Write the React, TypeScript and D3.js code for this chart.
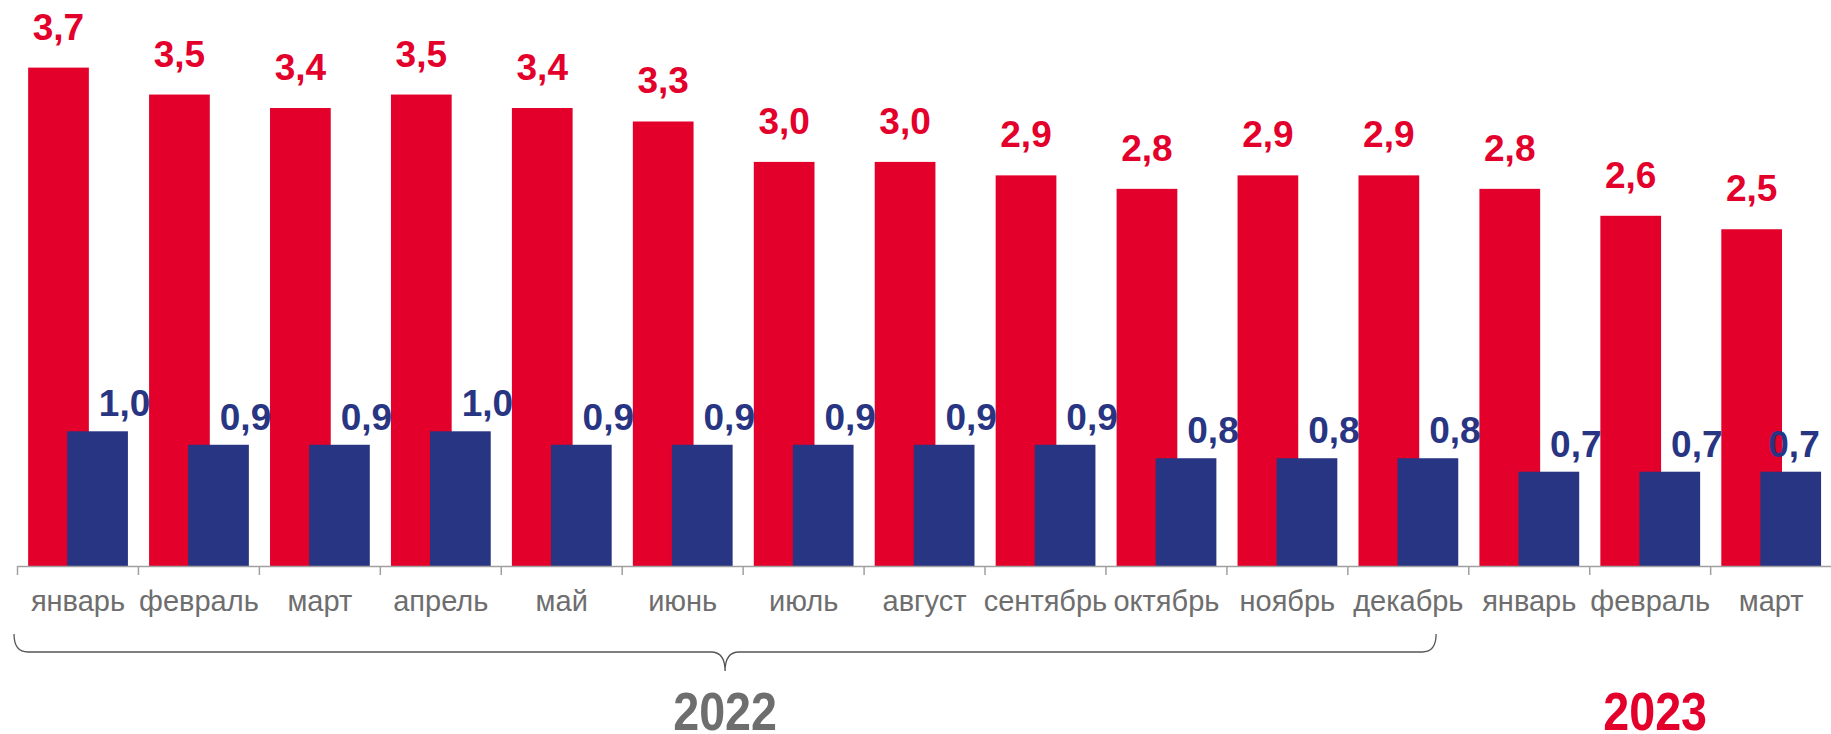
import React from "react";
import * as d3 from "d3";

const categories = ["январь", "февраль", "март", "апрель", "май", "июнь", "июль", "август", "сентябрь", "октябрь", "ноябрь", "декабрь", "январь", "февраль", "март"];
const redValues = [3.7, 3.5, 3.4, 3.5, 3.4, 3.3, 3.0, 3.0, 2.9, 2.8, 2.9, 2.9, 2.8, 2.6, 2.5];
const blueValues = [1.0, 0.9, 0.9, 1.0, 0.9, 0.9, 0.9, 0.9, 0.9, 0.8, 0.8, 0.8, 0.7, 0.7, 0.7];
const years = ["2022", "2023"];
const yearStart = [0, 12];
const yearEnd = [11, 14];

const W = 1831;
const H = 734;
const RED = "#E3002B";
const BLUE = "#283582";
const GRAY = "#6e6e6e";
const AXIS = "#a0a0a0";

const fmt = (v: number) => v.toFixed(1).replace(".", ",");

export default function App() {
  const idx = categories.map((_, i) => i);
  const x = d3.scaleBand<number>().domain(idx).range([17.5, 1831.6]).paddingInner(0).paddingOuter(0);
  const bw = x.bandwidth();
  const y = d3.scaleLinear().domain([0, 4]).range([566, 566 - 4 * 134.7]);
  const barW = bw * 0.502;
  const redOff = bw * 0.088;
  const blueOff = bw * 0.411;
  const y0 = y(0);
  const labelHalf = 37;
  const clampX = (v: number) => Math.max(labelHalf - 10, Math.min(W - labelHalf, v));

  const braceL = (x(yearStart[0]) as number) - 3.5;
  const braceR = (x(yearEnd[0]) as number) + bw * 0.73;
  const tip = (braceL + braceR) / 2;
  const bTop = 634;
  const bMid = 652;
  const bTip = 671;
  const r = 14;
  const brace = `M${braceL},${bTop} Q${braceL},${bMid} ${braceL + r},${bMid} L${tip - r},${bMid} Q${tip},${bMid} ${tip},${bTip} Q${tip},${bMid} ${tip + r},${bMid} L${braceR - r},${bMid} Q${braceR},${bMid} ${braceR},${bTop}`;

  const y2023c = ((x(yearStart[1]) as number) + (x(yearEnd[1]) as number) + bw) / 2 + 5;

  return (
    <svg width={W} height={H} style={{ position: "absolute", left: 0, top: 0, display: "block" }} fontFamily="'Liberation Sans', Arial, sans-serif">
      <rect x={0} y={0} width={W} height={H} fill="#ffffff" />
      {idx.map((i) => (
        <rect key={"r" + i} x={(x(i) as number) + redOff} y={y(redValues[i])} width={barW} height={y0 - y(redValues[i])} fill={RED} />
      ))}
      {idx.map((i) => (
        <rect key={"b" + i} x={(x(i) as number) + blueOff} y={y(blueValues[i])} width={barW} height={y0 - y(blueValues[i])} fill={BLUE} />
      ))}
      <line x1={17.5} x2={W} y1={y0 + 0.5} y2={y0 + 0.5} stroke={AXIS} strokeWidth={1.5} />
      {idx.map((i) => (
        <line key={"t" + i} x1={(x(i) as number)} x2={(x(i) as number)} y1={y0} y2={y0 + 9} stroke={AXIS} strokeWidth={1.5} />
      ))}
      {idx.map((i) => (
        <text key={"rl" + i} x={clampX((x(i) as number) + redOff + barW / 2)} y={y(redValues[i]) - 28} textAnchor="middle" fontSize={37} fontWeight="bold" fill={RED}>
          {fmt(redValues[i])}
        </text>
      ))}
      {idx.map((i) => (
        <text key={"bl" + i} x={clampX((x(i) as number) + blueOff + barW / 2 + 27)} y={y(blueValues[i]) - 15} textAnchor="middle" fontSize={37} fontWeight="bold" fill={BLUE}>
          {fmt(blueValues[i])}
        </text>
      ))}
      {idx.map((i) => (
        <text key={"c" + i} x={(x(i) as number) + bw / 2} y={611} textAnchor="middle" fontSize={29} fill={GRAY}>
          {categories[i]}
        </text>
      ))}
      <path d={brace} fill="none" stroke="#555555" strokeWidth={1.3} />
      <text transform={`translate(${tip},730) scale(0.88,1)`} textAnchor="middle" fontSize={53} fontWeight="bold" fill={GRAY}>
        {years[0]}
      </text>
      <text transform={`translate(${y2023c},730) scale(0.88,1)`} textAnchor="middle" fontSize={53} fontWeight="bold" fill={RED}>
        {years[1]}
      </text>
    </svg>
  );
}
